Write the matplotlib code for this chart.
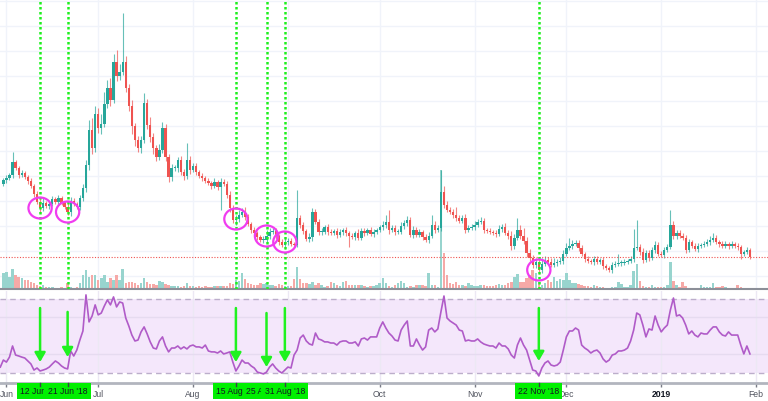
import numpy as np
import pandas as pd
import matplotlib
matplotlib.use('Agg')
import matplotlib.pyplot as plt
import matplotlib.transforms as mtransforms
from matplotlib.patches import Ellipse, Rectangle

plt.rcParams['font.family'] = ['Liberation Sans', 'DejaVu Sans']

# daily candles, 31 May 2018 .. 30 Jan 2019 (price in chart units)
first_open = 117
closes = [
    121, 123, 126, 139, 133, 126, 128, 124, 120, 115,
    107, 99, 93, 98, 95, 97, 102, 99, 103, 98,
    94, 89, 100, 97, 94, 103, 113, 136, 171, 153,
    187, 173, 177, 197, 213, 201, 239, 225, 229, 239,
    213, 195, 175, 161, 153, 161, 198, 176, 164, 153,
    144, 151, 173, 144, 124, 133, 133, 141, 129, 125,
    141, 131, 135, 129, 125, 123, 120, 118, 115, 119,
    114, 119, 117, 106, 93, 81, 82, 86, 89, 84,
    77, 71, 68, 64, 61, 61, 65, 69, 70, 65,
    59, 56, 59, 60, 57, 56, 83, 76, 70, 62,
    64, 89, 79, 69, 69, 74, 69, 68, 70, 66,
    69, 71, 68, 65, 64, 68, 63, 70, 68, 71,
    67, 69, 71, 74, 76, 79, 71, 73, 69, 69,
    75, 78, 81, 66, 71, 66, 69, 64, 61, 65,
    76, 71, 73, 109, 96, 91, 89, 86, 83, 80,
    83, 71, 73, 74, 76, 79, 80, 71, 70, 69,
    68, 67, 72, 74, 68, 65, 55, 63, 71, 65,
    60, 48, 43, 36, 39, 31, 37, 41, 39, 36,
    38, 39, 40, 47, 53, 55, 57, 58, 53, 47,
    42, 40, 39, 42, 39, 41, 35, 33, 31, 36,
    37, 38, 38, 39, 40, 42, 53, 54, 49, 41,
    48, 43, 51, 56, 47, 46, 51, 54, 76, 65,
    68, 65, 63, 51, 59, 55, 52, 55, 56, 57,
    59, 61, 63, 59, 57, 55, 57, 55, 57, 55,
    54, 47, 49, 51, 44,
]
wick_up = [
    2, 3, 2, 10, 2, 2, 3, 2, 2, 3,
    2, 3, 4, 6, 2, 3, 3, 2, 3, 2,
    2, 4, 4, 3, 2, 3, 4, 5, 10, 12,
    8, 6, 10, 12, 8, 10, 8, 12, 8, 49,
    6, 4, 6, 3, 4, 4, 10, 4, 8, 4,
    3, 6, 6, 4, 3, 4, 3, 3, 4, 3,
    17, 4, 3, 3, 2, 3, 2, 3, 2, 4,
    2, 4, 3, 3, 4, 3, 4, 5, 4, 5,
    3, 2, 3, 2, 2, 4, 6, 4, 3, 3,
    2, 3, 4, 3, 3, 2, 28, 3, 3, 2,
    4, 4, 3, 3, 4, 2, 3, 3, 2, 3,
    3, 2, 3, 2, 3, 2, 4, 3, 3, 2,
    3, 3, 2, 2, 4, 7, 12, 3, 3, 3,
    4, 3, 4, 3, 4, 3, 3, 2, 3, 4,
    10, 4, 3, 22, 6, 4, 3, 3, 8, 3,
    3, 4, 3, 3, 4, 3, 4, 3, 2, 3,
    2, 3, 4, 3, 4, 3, 5, 4, 12, 5,
    8, 4, 4, 3, 4, 3, 6, 4, 3, 4,
    5, 3, 4, 4, 5, 8, 4, 3, 3, 3,
    2, 3, 2, 3, 3, 2, 3, 2, 2, 3,
    3, 9, 3, 3, 2, 3, 19, 27, 3, 4,
    3, 3, 3, 4, 3, 3, 3, 3, 15, 4,
    3, 3, 3, 3, 3, 2, 3, 3, 2, 3,
    3, 4, 5, 3, 2, 3, 3, 2, 3, 2,
    3, 2, 2, 3, 2,
]
wick_dn = [
    2, 3, 2, 3, 2, 3, 2, 2, 3, 2,
    3, 2, 4, 3, 2, 3, 2, 2, 3, 2,
    2, 3, 4, 2, 2, 3, 3, 4, 5, 6,
    4, 5, 6, 3, 4, 6, 3, 5, 4, 3,
    4, 5, 8, 6, 4, 5, 3, 4, 5, 6,
    4, 3, 3, 4, 5, 4, 3, 4, 3, 4,
    3, 4, 2, 3, 2, 3, 2, 2, 3, 2,
    3, 23, 2, 3, 4, 3, 5, 3, 2, 3,
    2, 3, 2, 3, 2, 3, 2, 3, 2, 3,
    3, 2, 4, 3, 2, 2, 2, 3, 3, 2,
    3, 4, 2, 3, 3, 2, 3, 2, 2, 3,
    2, 3, 3, 11, 2, 3, 2, 2, 3, 2,
    2, 3, 2, 2, 3, 3, 4, 2, 3, 2,
    2, 3, 3, 2, 3, 2, 2, 3, 2, 3,
    2, 3, 2, 3, 3, 2, 2, 3, 3, 2,
    2, 3, 2, 2, 3, 2, 2, 3, 2, 2,
    2, 3, 2, 3, 2, 3, 4, 3, 2, 3,
    3, 4, 3, 3, 3, 4, 3, 2, 3, 2,
    2, 3, 2, 3, 2, 2, 3, 2, 3, 2,
    3, 2, 2, 3, 2, 2, 3, 2, 2, 3,
    2, 2, 3, 2, 2, 2, 3, 2, 3, 3,
    2, 3, 2, 3, 2, 2, 3, 2, 2, 3,
    3, 2, 2, 3, 2, 2, 2, 3, 2, 2,
    2, 3, 2, 2, 3, 2, 2, 3, 2, 2,
    3, 5, 2, 2, 2,
]
volumes = [
    16, 17, 12, 20, 14, 12, 11, 9, 9, 7,
    6, 4, 3, 4, 2, 2, 2, 1, 1, 2,
    1, 6, 2, 1, 2, 6, 14, 19, 12, 14,
    14, 9, 11, 14, 7, 11, 9, 14, 9, 20,
    6, 7, 7, 6, 4, 6, 11, 7, 5, 5,
    4, 8, 7, 5, 4, 3, 3, 3, 2, 3,
    6, 3, 3, 2, 3, 2, 3, 2, 2, 3,
    3, 3, 3, 3, 6, 5, 9, 8, 16, 10,
    6, 5, 4, 4, 6, 5, 6, 4, 4, 3,
    5, 4, 3, 3, 3, 10, 22, 10, 6, 6,
    5, 7, 4, 6, 4, 2, 3, 7, 6, 4,
    3, 7, 8, 4, 4, 4, 4, 4, 3, 2,
    3, 3, 4, 6, 11, 6, 3, 2, 4, 6,
    8, 6, 2, 3, 2, 4, 4, 4, 3, 16,
    4, 4, 2, 119, 36, 14, 6, 5, 7, 4,
    4, 3, 6, 4, 3, 3, 4, 4, 3, 3,
    3, 4, 5, 4, 4, 6, 7, 12, 15, 7,
    7, 11, 14, 19, 16, 7, 4, 6, 9, 7,
    12, 8, 10, 9, 16, 9, 6, 6, 5, 4,
    3, 3, 2, 4, 3, 2, 2, 1, 1, 2,
    2, 7, 5, 2, 2, 4, 18, 25, 8, 3,
    2, 2, 4, 2, 2, 2, 2, 4, 27, 8,
    4, 2, 7, 3, 1, 1, 1, 1, 4, 2,
    2, 2, 6, 2, 2, 3, 2, 1, 1, 1,
    4, 2, 1, 1, 1,
]

# RSI(14), 30 May 2018 .. 30 Jan 2019
rsi = [
    33.2, 37.0, 35.9, 38.6, 44.6, 39.7, 39.2, 38.6, 38.1, 36.5,
    34.9, 31.6, 32.7, 31.1, 31.6, 32.2, 33.2, 34.9, 36.5, 35.4,
    33.8, 32.7, 32.2, 41.9, 39.2, 42.4, 47.8, 52.7, 72.2, 57.6,
    60.8, 66.8, 61.4, 62.4, 66.2, 69.5, 66.8, 71.1, 65.7, 68.4,
    67.8, 59.7, 55.4, 50.5, 47.3, 47.8, 52.2, 54.9, 51.1, 46.8,
    43.5, 43.0, 47.3, 49.5, 44.6, 41.4, 43.5, 43.5, 44.6, 43.0,
    44.1, 43.0, 44.6, 45.1, 44.1, 44.1, 43.5, 45.1, 41.9, 41.4,
    41.4, 40.8, 41.9, 40.3, 40.8, 41.4, 35.9, 31.1, 33.8, 37.0,
    35.4, 35.4, 33.8, 32.7, 30.5, 30.0, 29.5, 30.5, 33.2, 34.9,
    32.7, 31.1, 30.0, 31.6, 33.2, 32.7, 39.7, 42.4, 48.9, 50.5,
    47.3, 45.7, 45.1, 51.6, 48.4, 47.8, 46.8, 46.8, 46.2, 46.2,
    45.1, 46.8, 47.3, 47.3, 46.2, 46.2, 46.8, 44.6, 48.4, 48.9,
    47.8, 49.5, 49.5, 49.5, 54.3, 57.6, 54.3, 51.6, 50.0, 47.8,
    47.3, 53.2, 55.9, 58.1, 44.6, 44.6, 48.4, 45.1, 42.4, 44.1,
    53.2, 54.3, 52.2, 53.8, 63.0, 71.6, 59.7, 58.1, 57.0, 55.9,
    53.2, 52.7, 47.3, 47.8, 47.3, 47.3, 48.4, 46.8, 45.7, 45.1,
    44.6, 44.6, 43.5, 46.2, 44.6, 44.6, 43.0, 39.7, 38.1, 45.1,
    48.9, 45.1, 42.4, 37.0, 31.6, 31.1, 28.4, 32.7, 35.4, 36.5,
    34.3, 33.8, 34.3, 35.9, 42.4, 49.5, 52.7, 52.7, 54.3, 53.2,
    45.1, 43.5, 42.4, 40.8, 41.9, 42.4, 40.8, 37.6, 35.9, 37.0,
    39.7, 40.3, 41.9, 41.9, 42.4, 43.5, 47.3, 53.2, 62.4, 61.4,
    55.9, 49.5, 53.8, 53.2, 60.8, 55.9, 52.2, 54.3, 55.9, 64.1,
    70.5, 60.8, 61.4, 59.7, 55.9, 51.1, 52.7, 50.5, 49.5, 51.6,
    51.1, 51.1, 53.2, 54.9, 54.9, 52.2, 50.5, 50.0, 52.2, 50.5,
    50.5, 50.5, 45.1, 40.3, 44.6, 40.3,
]

# marked bottoms
marker_dates = ['2018-06-12', '2018-06-21', '2018-08-15', '2018-08-25', '2018-08-31', '2018-11-22']
marker_labels = ["12 Jun '18", "21 Jun '18", "15 Aug '18", "25 Aug '18", "31 Aug '18", "22 Nov '18"]
arrow_tail = [65.1, 63.0, 65.1, 62.4, 65.1, 65.1]
arrow_tip = [35.9, 38.6, 35.9, 33.2, 35.9, 36.5]

month_dates = ['2018-06-01', '2018-07-01', '2018-08-01', '2018-09-01', '2018-10-01',
               '2018-11-01', '2018-12-01', '2019-01-01', '2019-02-01']
month_labels = ['Jun', 'Jul', 'Aug', 'Sep', 'Oct', 'Nov', 'Dec', '2019', 'Feb']

base = pd.Timestamp('2018-06-01')
candle_days = np.array((pd.date_range('2018-05-31', periods=len(closes)) - base).days)
rsi_days = np.array((pd.date_range('2018-05-30', periods=len(rsi)) - base).days)
marker_days = np.array((pd.to_datetime(marker_dates) - base).days)
month_days = np.array((pd.to_datetime(month_dates) - base).days)

c = np.array(closes, dtype=float)
o = np.concatenate([[first_open], c[:-1]])
highs = np.maximum(o, c) + np.array(wick_up)
lows = np.minimum(o, c) - np.array(wick_dn)
up = c >= o

teal, red = '#26a69a', '#ef5350'
cols = np.where(up, teal, red)
vol_cols = np.where(up, '#98d4ce', '#f6a9a7')

fig = plt.figure(figsize=(7.68, 4.01), dpi=100)
ax = fig.add_axes([0, 112 / 401, 1, 289 / 401])
ax_rsi = fig.add_axes([0, 18 / 401, 1, 92 / 401], sharex=ax)

y_bottom = 12
ax.set_xlim(-2.1, 248.9)
ax.set_ylim(y_bottom, 301)
ax.set_axisbelow(True)
ax.set_yticks(np.arange(25, 301, 25))
ax.grid(color='#f0f3fa', lw=1)
ax.tick_params(length=0, labelbottom=False, labelleft=False)
for s in ['top', 'left', 'right']:
    ax.spines[s].set_visible(False)
ax.spines['bottom'].set_color('#8c8f98')
ax.spines['bottom'].set_linewidth(1.5)

# volume overlay at the bottom of the price pane
ax.bar(candle_days, volumes, bottom=y_bottom, width=0.8, color=vol_cols, zorder=1)

# candles
ax.vlines(candle_days, lows, highs, colors=cols, lw=0.8, alpha=0.7, zorder=2)
ax.bar(candle_days, np.maximum(np.abs(c - o), 0.8), bottom=np.minimum(o, c),
       width=0.76, color=cols, zorder=3)

ax.axhline(c[-1], color=red, lw=0.8, ls=(0, (1, 1.5)), zorder=2)

for d in marker_days:
    ax.axvline(d, color='#1df01d', lw=1.8, ls=(0, (1, 1)), zorder=4)
    ax.add_patch(Ellipse((d, c[d + 1]), width=7.6, height=21, fill=False,
                         ec='#f03cf0', lw=1.6, zorder=5))

# RSI pane
ax_rsi.set_ylim(24.6, 74.3)
ax_rsi.set_axisbelow(True)
ax_rsi.set_yticks([])
ax_rsi.axhspan(30, 70, color='#f4e7fb', lw=0, zorder=0)
ax_rsi.grid(axis='x', color='#ece8f4', lw=1)
for lvl in [40, 60]:
    ax_rsi.axhline(lvl, color='#e6dbf0', lw=1, zorder=0.6)
for lvl in [30, 70]:
    ax_rsi.axhline(lvl, color='#bcaecb', lw=1, ls=(0, (4, 3)), zorder=1)
ax_rsi.plot(rsi_days, rsi, color='#b05bc8', lw=1.2, zorder=3)

for d, t0, t1 in zip(marker_days, arrow_tail, arrow_tip):
    ax_rsi.annotate('', xy=(d, t1), xytext=(d, t0), zorder=4,
                    arrowprops=dict(arrowstyle='-|>,head_length=0.55,head_width=0.32',
                                    color='#1ff21f', lw=1.8, mutation_scale=10,
                                    shrinkA=0, shrinkB=0))

for s in ['top', 'left', 'right']:
    ax_rsi.spines[s].set_visible(False)
ax_rsi.spines['bottom'].set_color('#b2b5be')
ax_rsi.spines['bottom'].set_linewidth(2)

ax_rsi.set_xticks(month_days, month_labels)
ax_rsi.tick_params(axis='x', length=3, width=1, color='#787b86', labelsize=6.2,
                   labelcolor='#50535e', pad=2)
for lab in ax_rsi.get_xticklabels():
    if lab.get_text() == '2019':
        lab.set_fontweight('bold')
        lab.set_color('#131722')

# green date labels under the axis, later ones drawn over earlier ones
trans = mtransforms.blended_transform_factory(ax_rsi.transData, ax_rsi.transAxes)
box_w = 15.3
box_h = 16 / 92
for i, (d, lab) in enumerate(zip(marker_days, marker_labels)):
    z = 10 + 3 * i
    ax_rsi.add_patch(Rectangle((d - box_w / 2, -box_h), box_w, box_h, transform=trans,
                               fc='#00f000', ec='none', clip_on=False, zorder=z))
    ax_rsi.text(d, -box_h / 2 - 0.005, lab, transform=trans, ha='center', va='center',
                fontsize=6.2, color='#131722', zorder=z + 1)
    ax_rsi.plot([d, d], [0, -0.035], transform=trans, color='#3c3f48', lw=1,
                clip_on=False, zorder=z + 2)

fig.savefig('out.png', dpi=100)
